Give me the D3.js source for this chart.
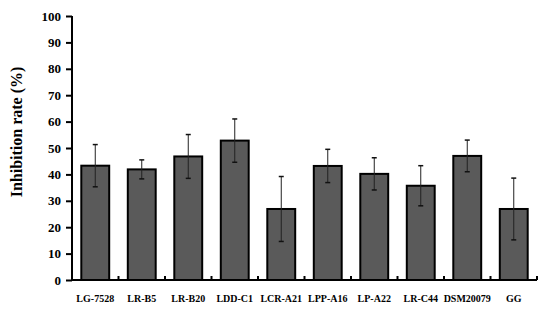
<!DOCTYPE html>
<html>
<head>
<meta charset="utf-8">
<script src="https://cdn.jsdelivr.net/npm/d3@7"></script>
<style>
  body { margin: 0; background: #fff; }
  text { font-family: "Liberation Serif", "Times New Roman", serif; font-weight: bold; }
</style>
</head>
<body>
<svg width="550" height="316"></svg>
<script>
var strains = ["LG-7528", "LR-B5", "LR-B20", "LDD-C1", "LCR-A21", "LPP-A16", "LP-A22", "LR-C44", "DSM20079", "GG"];
var rates = [43.3, 41.9, 46.8, 52.8, 26.9, 43.2, 40.2, 35.7, 47.0, 26.9];
var errs = [8.0, 3.6, 8.3, 8.2, 12.3, 6.3, 6.1, 7.6, 6.0, 11.7];
var yTicks = [0, 10, 20, 30, 40, 50, 60, 70, 80, 90, 100];

main();

function main() {
  var svg = d3.select("svg"),
    margin = { top: 16, right: 13, bottom: 36, left: 72 },
    width = +svg.attr("width") - margin.left - margin.right,
    height = +svg.attr("height") - margin.top - margin.bottom;

  var g = svg.append("g").attr("transform", "translate(" + margin.left + "," + margin.top + ")");

  var x = d3.scaleBand().domain(strains).range([0, width]).paddingInner(0.4).paddingOuter(0.2);
  var y = d3.scaleLinear().domain([0, 100]).range([height, 0]);

  var data = strains.map(function(s, i) {
    return { name: s, value: rates[i], err: errs[i] };
  });

  // bars
  g.selectAll(".bar")
    .data(data)
    .enter()
    .append("rect")
    .attr("class", "bar")
    .attr("x", function(d) { return x(d.name); })
    .attr("y", function(d) { return y(d.value); })
    .attr("width", x.bandwidth())
    .attr("height", function(d) { return height - y(d.value); })
    .style("fill", "#5a5a5a")
    .style("stroke", "#000")
    .style("stroke-width", 2);

  // error bars
  var eb = g.selectAll(".err").data(data).enter().append("g").attr("class", "err");
  eb.append("line")
    .attr("x1", function(d) { return x(d.name) + x.bandwidth() / 2; })
    .attr("x2", function(d) { return x(d.name) + x.bandwidth() / 2; })
    .attr("y1", function(d) { return y(d.value + d.err); })
    .attr("y2", function(d) { return y(d.value - d.err); })
    .style("stroke", "#222")
    .style("stroke-width", 1);
  [1, -1].forEach(function(s) {
    eb.append("line")
      .attr("x1", function(d) { return x(d.name) + x.bandwidth() / 2 - 2.5; })
      .attr("x2", function(d) { return x(d.name) + x.bandwidth() / 2 + 2.5; })
      .attr("y1", function(d) { return y(d.value + s * d.err); })
      .attr("y2", function(d) { return y(d.value + s * d.err); })
      .style("stroke", "#111")
      .style("stroke-width", 1.5);
  });

  // y axis
  var ya = g.append("g")
    .call(d3.axisLeft(y).tickValues(yTicks).tickSize(6).tickPadding(5));
  ya.selectAll("path, line").style("stroke", "#000").style("stroke-width", 2);
  ya.select(".domain").attr("d", "M0," + height + "V0");
  ya.selectAll("text").style("font-size", "13px").style("fill", "#000");

  // x axis with separator ticks pointing up
  var xa = g.append("g").attr("transform", "translate(0," + height + ")");
  xa.append("line")
    .attr("x1", 0).attr("x2", width)
    .style("stroke", "#000").style("stroke-width", 2);
  var step = x.step();
  xa.selectAll(".sep")
    .data(d3.range(1, strains.length + 1))
    .enter()
    .append("line")
    .attr("x1", function(k) { return k * step; })
    .attr("x2", function(k) { return k * step; })
    .attr("y1", 0).attr("y2", -4)
    .style("stroke", "#000").style("stroke-width", 2);
  xa.selectAll(".lbl")
    .data(strains)
    .enter()
    .append("text")
    .attr("x", function(d) { return x(d) + x.bandwidth() / 2; })
    .attr("y", 22)
    .attr("text-anchor", "middle")
    .style("font-size", "10px")
    .text(function(d) { return d; });

  svg.append("text")
    .attr("transform", "translate(22,132) rotate(-90)")
    .attr("text-anchor", "middle")
    .style("font-size", "16px")
    .text("Inhibition rate (%)");
}
</script>
</body>
</html>
